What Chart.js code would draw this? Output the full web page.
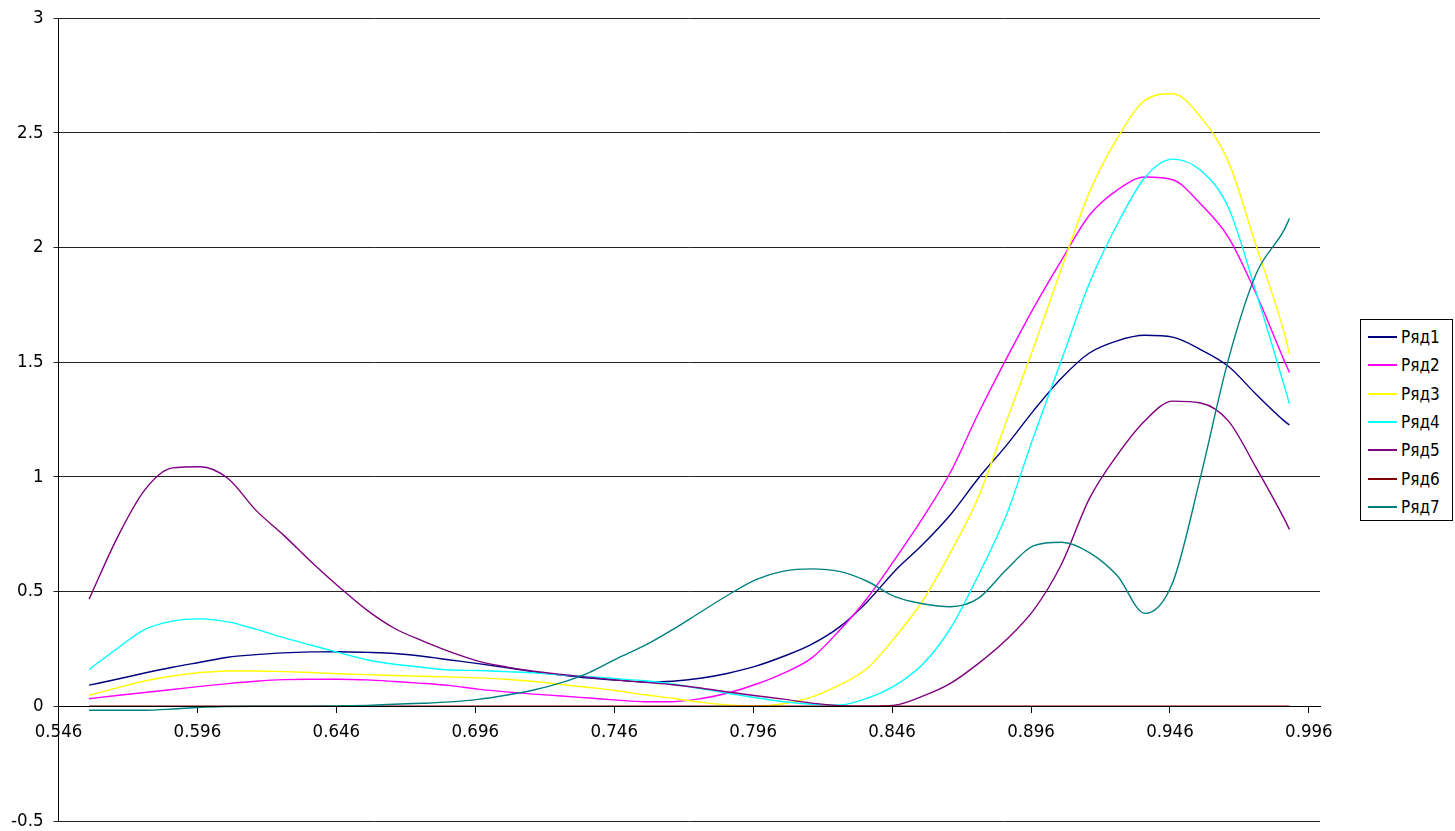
<!DOCTYPE html>
<html>
<head>
<meta charset="utf-8">
<title>Ряд1–Ряд7</title>
<script src="https://cdn.jsdelivr.net/npm/chart.js@4/dist/chart.umd.min.js"></script>
<style>
  html, body { margin: 0; background: #fff; overflow: hidden; }
  #wrap { position: relative; width: 1455px; height: 831px; }
  #myChart { display: block; }
  #legend {
    position: absolute; left: 1360px; top: 319px; width: 93px; height: 202px;
    box-sizing: border-box; border: 1px solid #000; background: #fff;
    font-family: "DejaVu Sans Condensed", "DejaVu Sans", sans-serif; font-size: 17px; color: #000;
  }
  .row { position: absolute; left: 0; height: 28px; width: 100%; }
  .row .ln { position: absolute; left: 7px; width: 29px; top: 13px; border-top: 2px solid; }
  .row .tx { position: absolute; left: 40px; top: 3px; line-height: 22px; white-space: nowrap; }
</style>
</head>
<body>
<div id="wrap">
  <canvas id="myChart" width="1455" height="831"></canvas>
  <div id="legend"></div>
</div>
<script>
// values, one point every ~0.01 on x
xVals = [0.557, 0.567, 0.577, 0.587, 0.597, 0.607, 0.617, 0.627, 0.637, 0.647,
         0.657, 0.667, 0.677, 0.687, 0.697, 0.707, 0.717, 0.727, 0.737, 0.747,
         0.757, 0.767, 0.777, 0.787, 0.797, 0.807, 0.817, 0.827, 0.837, 0.847,
         0.857, 0.867, 0.877, 0.887, 0.897, 0.907, 0.917, 0.927, 0.937, 0.947,
         0.957, 0.967, 0.977, 0.987, 0.989];

Ryad1 = [0.092, 0.118, 0.145, 0.170, 0.192, 0.214, 0.225, 0.233, 0.237, 0.238,
         0.235, 0.230, 0.218, 0.202, 0.186, 0.169, 0.150, 0.136, 0.123, 0.114,
         0.106, 0.109, 0.122, 0.144, 0.175, 0.218, 0.270, 0.345, 0.455, 0.590,
         0.705, 0.835, 0.993, 1.135, 1.290, 1.431, 1.540, 1.593, 1.617, 1.609,
         1.555, 1.482, 1.360, 1.245, 1.226];
Ryad2 = [0.033, 0.047, 0.060, 0.073, 0.087, 0.099, 0.109, 0.116, 0.118, 0.118,
         0.115, 0.108, 0.100, 0.090, 0.075, 0.063, 0.053, 0.045, 0.036, 0.027,
         0.020, 0.020, 0.033, 0.058, 0.096, 0.145, 0.210, 0.330, 0.470, 0.640,
         0.820, 1.020, 1.275, 1.512, 1.738, 1.945, 2.140, 2.250, 2.307, 2.295,
         2.190, 2.045, 1.798, 1.510, 1.455];
Ryad3 = [0.048, 0.080, 0.110, 0.132, 0.147, 0.154, 0.154, 0.151, 0.147, 0.142,
         0.138, 0.134, 0.131, 0.128, 0.124, 0.118, 0.108, 0.095, 0.082, 0.068,
         0.050, 0.035, 0.018, 0.006, 0.001, 0.011, 0.040, 0.092, 0.165, 0.300,
         0.460, 0.670, 0.910, 1.238, 1.566, 1.910, 2.240, 2.475, 2.641, 2.670,
         2.569, 2.375, 2.007, 1.633, 1.535];
Ryad4 = [0.160, 0.251, 0.334, 0.371, 0.381, 0.368, 0.336, 0.299, 0.266, 0.234,
         0.203, 0.183, 0.170, 0.158, 0.156, 0.151, 0.146, 0.137, 0.129, 0.120,
         0.111, 0.097, 0.077, 0.057, 0.037, 0.020, 0.009, 0.006, 0.035, 0.090,
         0.183, 0.340, 0.570, 0.830, 1.178, 1.510, 1.844, 2.100, 2.305, 2.385,
         2.336, 2.175, 1.805, 1.402, 1.319];
Ryad5 = [0.467, 0.731, 0.942, 1.039, 1.044, 0.993, 0.855, 0.746, 0.629, 0.520,
         0.419, 0.339, 0.285, 0.237, 0.197, 0.172, 0.153, 0.139, 0.126, 0.114,
         0.104, 0.094, 0.080, 0.062, 0.046, 0.031, 0.014, 0.003, 0.000, 0.005,
         0.044, 0.100, 0.186, 0.289, 0.420, 0.620, 0.905, 1.095, 1.245, 1.330,
         1.322, 1.244, 1.040, 0.820, 0.771];
Ryad6 = [0, 0, 0, 0, 0, 0, 0, 0, 0, 0,
         0, 0, 0, 0, 0, 0, 0, 0, 0, 0,
         0, 0, 0, 0, 0, 0, 0, 0, 0, 0,
         0, 0, 0, 0, 0, 0, 0, 0, 0, 0,
         0, 0, 0, 0, 0];
Ryad7 = [-0.017, -0.017, -0.017, -0.012, -0.004, -0.001, 0.000, 0.000, 0.000, 0.001,
         0.004, 0.009, 0.013, 0.019, 0.030, 0.048, 0.071, 0.103, 0.147, 0.208,
         0.265, 0.334, 0.410, 0.485, 0.552, 0.589, 0.599, 0.588, 0.545, 0.478,
         0.447, 0.434, 0.470, 0.594, 0.700, 0.715, 0.670, 0.570, 0.405, 0.540,
         1.000, 1.510, 1.884, 2.074, 2.126];

seriesNames  = ['Ряд1', 'Ряд2', 'Ряд3', 'Ряд4', 'Ряд5', 'Ряд6', 'Ряд7'];
seriesColors = ['#000080', '#FF00FF', '#FFFF00', '#00FFFF', '#800080', '#800000', '#008080'];
allSeries    = [Ryad1, Ryad2, Ryad3, Ryad4, Ryad5, Ryad6, Ryad7];

xTicks = [0.546, 0.596, 0.646, 0.696, 0.746, 0.796, 0.846, 0.896, 0.946, 0.996];
yTicks = [-0.5, 0, 0.5, 1, 1.5, 2, 2.5, 3];

var tickFont = { family: "'DejaVu Sans Condensed', 'DejaVu Sans', sans-serif", size: 18.5 };

var datasets = allSeries.map(function (vals, i) {
  return {
    label: seriesNames[i],
    data: xVals.map(function (x, k) { return { x: x, y: vals[k] }; }),
    borderColor: seriesColors[i],
    backgroundColor: seriesColors[i],
    borderWidth: 1.4,
    pointRadius: 0,
    fill: false,
    cubicInterpolationMode: 'monotone',
    order: allSeries.length - i   // later series on top, like the original
  };
});

var ctx = document.getElementById('myChart').getContext('2d');
var myChart = new Chart(ctx, {
  type: 'line',
  data: { datasets: datasets },
  options: {
    responsive: false,
    animation: false,
    layout: { padding: { top: 18, right: 135, bottom: 10, left: 0 } },
    plugins: { legend: { display: false }, tooltip: { enabled: false } },
    scales: {
      x: {
        type: 'linear',
        min: 0.546,
        max: 1.0,
        position: { y: 0 },
        afterBuildTicks: function (scale) {
          scale.ticks = xTicks.map(function (v) { return { value: v }; });
        },
        ticks: {
          font: tickFont, color: '#000', padding: 9, maxRotation: 0, autoSkip: false,
          callback: function (v) { return String(v); }
        },
        grid: { drawOnChartArea: false, drawTicks: true, tickLength: 6, color: '#000' },
        border: { display: true, color: '#000', width: 1, z: 1 }   // axis line over the flat Ряд6
      },
      y: {
        type: 'linear',
        min: -0.5,
        max: 3,
        afterFit: function (scale) {
          scale.width = 58.5;
          // keep the label overhang from pushing the plot box in
          scale.paddingTop = 0;
          scale.paddingBottom = 0;
        },
        afterBuildTicks: function (scale) {
          scale.ticks = yTicks.map(function (v) { return { value: v }; });
        },
        ticks: {
          font: tickFont, color: '#000', padding: 10,
          callback: function (v) { return String(v); }
        },
        grid: { color: '#222', lineWidth: 1, drawTicks: true, tickLength: 5 },
        border: { display: true, color: '#000', width: 1 }
      }
    }
  }
});

// legend box on the right
var legend = document.getElementById('legend');
seriesNames.forEach(function (name, i) {
  var row = document.createElement('div');
  row.className = 'row';
  row.style.top = (3 + i * 28.33) + 'px';
  row.innerHTML = '<span class="ln" style="border-color:' + seriesColors[i] + '"></span>' +
                  '<span class="tx">' + name + '</span>';
  legend.appendChild(row);
});
</script>
</body>
</html>
